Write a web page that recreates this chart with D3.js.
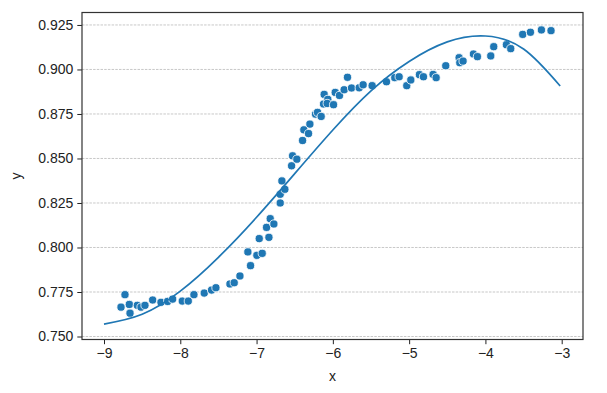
<!DOCTYPE html>
<html>
<head>
<meta charset="utf-8">
<script src="https://cdn.jsdelivr.net/npm/d3@7"></script>
<style>
  body { margin: 0; background: #fff; }
  svg { display: block; }
  .tick text { font-family: "Liberation Sans", Arial, sans-serif; font-size: 14px; fill: #222; }
</style>
</head>
<body>
<div id="chart"></div>
<script>
// pontos
var ptsX = [-8.777, -8.725, -8.668, -8.659, -8.563, -8.515, -8.463, -8.362, -8.253, -8.166,
            -8.100, -7.974, -7.895, -7.821, -7.686, -7.590, -7.533, -7.349, -7.293, -7.218,
            -7.114, -7.079, -6.996, -6.926, -6.965, -6.869, -6.838, -6.821, -6.773, -6.690,
            -6.690, -6.668, -6.629, -6.541, -6.528, -6.472, -6.397, -6.380, -6.319, -6.301,
            -6.227, -6.201, -6.153, -6.114, -6.122, -6.066, -6.074, -5.991, -5.969, -5.913,
            -5.852, -5.808, -5.755, -5.655, -5.603, -5.485, -5.297, -5.188, -5.131, -5.031,
            -4.978, -4.865, -4.812, -4.686, -4.646, -4.520, -4.345, -4.336, -4.293, -4.157,
            -4.105, -3.930, -3.891, -3.725, -3.668, -3.511, -3.410, -3.266, -3.140];
var ptsY = [0.7665, 0.7735, 0.7680, 0.7631, 0.7675, 0.7665, 0.7675, 0.7705, 0.7692, 0.7697,
            0.7710, 0.7699, 0.7699, 0.7735, 0.7744, 0.7761, 0.7774, 0.7795, 0.7802, 0.7840,
            0.7975, 0.7898, 0.7956, 0.7967, 0.8050, 0.8113, 0.8057, 0.8162, 0.8132, 0.8250,
            0.8299, 0.8374, 0.8327, 0.8459, 0.8515, 0.8496, 0.8601, 0.8661, 0.8640, 0.8693,
            0.8749, 0.8759, 0.8736, 0.8860, 0.8806, 0.8832, 0.8809, 0.8802, 0.8871, 0.8854,
            0.8886, 0.8956, 0.8896, 0.8897, 0.8914, 0.8909, 0.8931, 0.8954, 0.8959, 0.8909,
            0.8941, 0.8971, 0.8959, 0.8972, 0.8954, 0.9021, 0.9066, 0.9038, 0.9047, 0.9087,
            0.9072, 0.9076, 0.9128, 0.9139, 0.9117, 0.9197, 0.9209, 0.9222, 0.9218];

// curva (ajuste)
var curveX = [-9, -8.5, -8, -7.5, -7, -6.5, -6, -5.5, -5, -4.5, -4, -3.5, -3.02];
var curveY = [0.757, 0.7625, 0.7755, 0.7945, 0.817, 0.8415, 0.866, 0.888, 0.9045, 0.9155, 0.9188, 0.9115, 0.8907];

var xTicks = [-9, -8, -7, -6, -5, -4, -3];
var yTicks = [0.750, 0.775, 0.800, 0.825, 0.850, 0.875, 0.900, 0.925];

var width = 607;
var height = 393;
// nao usar "top" (window.top e so de leitura)
var mLeft = 82, mRight = 583, mTop = 12.5, mBottom = 339.5;
var blue = "#1f77b4";

var svg = d3.select('#chart').append('svg')
    .attr('width', width)
    .attr('height', height);

var x = d3.scaleLinear().domain([-9.2884, -2.7208]).range([mLeft, mRight]);
var y = d3.scaleLinear().domain([0.74832, 0.9320]).range([mBottom, mTop]);

// grelha horizontal
svg.append('g')
    .selectAll('line')
    .data(yTicks)
    .enter()
    .append('line')
    .attr('x1', mLeft).attr('x2', mRight)
    .attr('y1', function (d) { return y(d); })
    .attr('y2', function (d) { return y(d); })
    .attr('stroke', '#b0b0b0')
    .attr('stroke-width', 0.7)
    .attr('stroke-dasharray', '2.5,1.2');

// eixos
svg.append('g')
    .attr('transform', 'translate(0,' + mBottom + ')')
    .call(d3.axisBottom(x).tickValues(xTicks).tickSize(4.7).tickPadding(4)
        .tickFormat(function (d) { return d3.format('d')(d).replace('-', '\u2212'); }));

svg.append('g')
    .attr('transform', 'translate(' + mLeft + ',0)')
    .call(d3.axisLeft(y).tickValues(yTicks).tickSize(4.7).tickPadding(4).tickFormat(d3.format('.3f')));

svg.selectAll('.domain').remove();
svg.selectAll('.tick line').attr('stroke', '#222').attr('stroke-width', 1);

// moldura
svg.append('rect')
    .attr('x', mLeft).attr('y', mTop)
    .attr('width', mRight - mLeft).attr('height', mBottom - mTop)
    .attr('fill', 'none')
    .attr('stroke', '#333')
    .attr('stroke-width', 1.2);

// pontos
var pts = ptsX.map(function (d, i) { return { x: d, y: ptsY[i] }; });
svg.append('g')
    .selectAll('circle')
    .data(pts)
    .enter()
    .append('circle')
    .attr('cx', function (d) { return x(d.x); })
    .attr('cy', function (d) { return y(d.y); })
    .attr('r', 4.1)
    .attr('fill', blue)
    .attr('stroke', '#fff')
    .attr('stroke-width', 0.8);

// linha do ajuste
var curve = curveX.map(function (d, i) { return [d, curveY[i]]; });
var line = d3.line()
    .x(function (d) { return x(d[0]); })
    .y(function (d) { return y(d[1]); })
    .curve(d3.curveNatural);

svg.append('path')
    .datum(curve)
    .attr('d', line)
    .attr('fill', 'none')
    .attr('stroke', blue)
    .attr('stroke-width', 1.7);

// titulos dos eixos
svg.append('text')
    .attr('x', (mLeft + mRight) / 2)
    .attr('y', 381)
    .attr('text-anchor', 'middle')
    .style('font-family', '"Liberation Sans", Arial, sans-serif')
    .style('font-size', '14px')
    .attr('fill', '#222')
    .text('x');

svg.append('text')
    .attr('transform', 'translate(21,' + ((mTop + mBottom) / 2) + ') rotate(-90)')
    .attr('text-anchor', 'middle')
    .style('font-family', '"Liberation Sans", Arial, sans-serif')
    .style('font-size', '14px')
    .attr('fill', '#222')
    .text('y');
</script>
</body>
</html>
